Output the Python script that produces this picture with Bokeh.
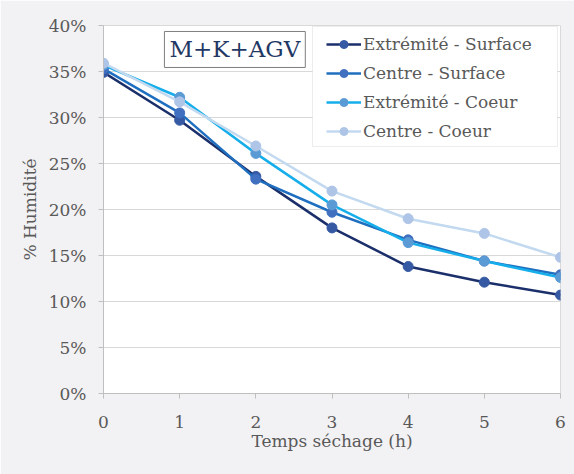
from bokeh.plotting import figure
from bokeh.models import Label, Legend, LegendItem, NumeralTickFormatter, FixedTicker, Range1d, BoxAnnotation
from bokeh.embed import file_html
from bokeh.resources import INLINE

hours = [0, 1, 2, 3, 4, 5, 6]
series_names = ["Extrémité - Surface", "Centre - Surface", "Extrémité - Coeur", "Centre - Coeur"]
ext_surface = [0.349, 0.297, 0.236, 0.180, 0.138, 0.121, 0.107]
centre_surface = [0.353, 0.305, 0.233, 0.197, 0.167, 0.144, 0.129]
ext_coeur = [0.357, 0.322, 0.261, 0.205, 0.164, 0.144, 0.126]
centre_coeur = [0.359, 0.317, 0.269, 0.220, 0.190, 0.174, 0.148]
y_ticks = [0, 0.05, 0.10, 0.15, 0.20, 0.25, 0.30, 0.35, 0.40]
title_text = "M+K+AGV"

line_colors = ["#1B2F6B", "#1F6FC0", "#16AEEA", "#C2D9F0"]
marker_colors = ["#3559A3", "#4170C0", "#5B9BD5", "#AFC5E7"]
values = [ext_surface, centre_surface, ext_coeur, centre_coeur]

FONT = "DejaVu Serif"
GREY = "#595959"

p = figure(width=574, height=474, output_backend="svg", toolbar_location=None,
           x_range=Range1d(0, 6), y_range=Range1d(0, 0.40),
           min_border_left=103, min_border_right=14, min_border_top=25, min_border_bottom=81)
p.border_fill_color = "#F2F1F3"
p.background_fill_color = "white"
p.outline_line_color = "#D9D9D9"

p.xaxis.ticker = FixedTicker(ticks=hours)
p.yaxis.ticker = FixedTicker(ticks=y_ticks)
p.yaxis.formatter = NumeralTickFormatter(format="0%")
p.xgrid.grid_line_color = None
p.ygrid.grid_line_color = "#D9D9D9"
p.ygrid.grid_line_width = 1

for ax in (p.xaxis, p.yaxis):
    ax.axis_line_color = "#BFBFBF"
    ax.major_tick_line_color = "#BFBFBF"
    ax.major_tick_out = 5
    ax.major_tick_in = 0
    ax.minor_tick_line_color = None
    ax.major_label_text_font = FONT
    ax.major_label_text_font_size = "17px"
    ax.major_label_text_color = GREY
    ax.axis_label_text_font = FONT
    ax.axis_label_text_font_size = "17px"
    ax.axis_label_text_color = GREY
    ax.axis_label_text_font_style = "normal"

p.xaxis.axis_label = "Temps séchage (h)"
p.yaxis.axis_label = "% Humidité"
p.xaxis.major_label_standoff = 17
p.yaxis.major_label_standoff = 12
p.xaxis.axis_label_standoff = 0
p.yaxis.axis_label_standoff = 6

items = []
for name, vals, lc, mc in zip(series_names, values, line_colors, marker_colors):
    r1 = p.line(hours, vals, line_color=lc, line_width=2.5)
    r2 = p.scatter(hours, vals, size=10, fill_color=mc, line_color=mc)
    items.append(LegendItem(label=name, renderers=[r1, r2]))

# legend frame (white box with grey border)
box = BoxAnnotation(left=2.744, right=5.96, top=0.399, bottom=0.2685,
                    fill_color="white", fill_alpha=1, line_color="#BFBFBF", line_width=1)
p.add_layout(box)

legend = Legend(items=items, location=(223, 252))
legend.label_text_font = FONT
legend.label_text_font_size = "17px"
legend.label_text_color = GREY
legend.border_line_color = None
legend.background_fill_alpha = 0
legend.glyph_width = 35
legend.glyph_height = 20
legend.label_standoff = 2
legend.spacing = 9
legend.padding = 7
legend.margin = 0
legend.label_height = 20
p.add_layout(legend)

lbl = Label(x=0.8, y=0.3935, text=title_text, anchor="top_left",
            text_font=FONT, text_font_size="23px", text_color="#1F3864",
            border_line_color="#7F7F7F", background_fill_color="white",
            padding=5)
p.add_layout(lbl)

open("out.html", "w").write(file_html(p, INLINE))
